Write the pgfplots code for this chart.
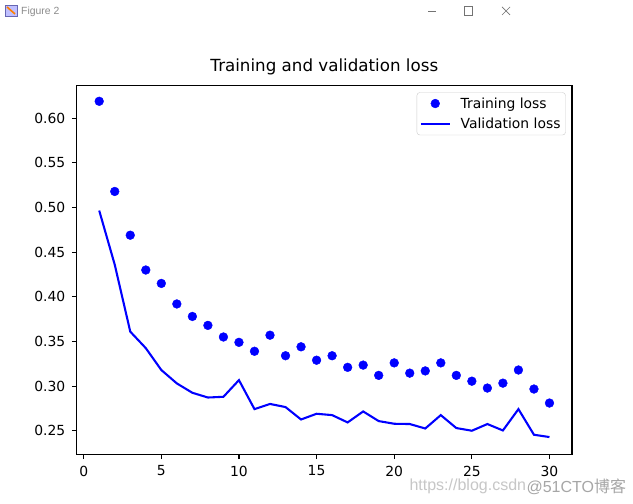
\documentclass[border=0pt]{standalone}
\usepackage{pgfplots}
\pgfplotsset{compat=1.18}
\usepackage{fontspec}
\setmainfont{DejaVu Sans}
\newfontfamily\wmfont{Liberation Sans}
\newfontfamily\cjk{Noto Sans CJK SC}

\pgfplotsset{
  dotlegend/.style={legend image code/.code={%
    \draw[mark repeat=2, mark phase=2, ##1] plot coordinates {(0pt,0pt)(14.3pt,0pt)(28.6pt,0pt)};}},
  linelegend/.style={legend image code/.code={%
    \draw[##1] (0pt,0pt) -- (28.6pt,0pt);}},
}

\begin{document}
\begin{tikzpicture}[x=1pt,y=1pt]
% window and page
\fill[white] (0,0) rectangle (633,504);
% title bar: icon, caption, window controls
\fill[blue!25!white] (5,488) rectangle (17,499);
\draw[blue!50!black!60, line width=0.6pt] (5,488) rectangle (17,499);
\draw[orange, line width=1.6pt] (7,497) -- (15,490);
\node[anchor=west, inner xsep=0pt, text=black!45, font=\wmfont\fontsize{10.4}{12}\selectfont] at (21,492) {Figure 2};
\draw[black!55, line width=0.7pt] (428,492.3) -- (436,492.3);
\draw[black!55, line width=0.7pt] (464.5,488.7) rectangle (472,497.3);
\draw[black!55, line width=0.7pt] (502,497) -- (510,489) (502,489) -- (510,497);

\begin{axis}[
  at={(76.7pt,49.7pt)}, anchor=south west,
  scale only axis, width=495.3pt, height=369pt,
  xmin=-0.45, xmax=31.45, ymin=0.2236, ymax=0.6369,
  xtick={0,5,10,15,20,25,30},
  ytick={0.25,0.30,0.35,0.40,0.45,0.50,0.55,0.60},
  yticklabel style={/pgf/number format/fixed, /pgf/number format/fixed zerofill, /pgf/number format/precision=2, xshift=-3pt},
  /pgf/number format/assume math mode=true,
  tick pos=left, tick align=outside,
  major tick length=4.9pt,
  every tick/.style={black, line width=1.1pt},
  axis line style={line width=1.1pt},
  tick label style={font=\fontsize{13.9}{16}\selectfont},
  xticklabel style={yshift=-3pt},
  title={Training and validation loss},
  title style={font=\fontsize{16.7}{19}\selectfont, at={(0.5,1)}, anchor=base, yshift=8.3pt},
  legend style={at={(1,1)}, anchor=north east, xshift=-6.3pt, yshift=-7pt,
    draw=black!20, rounded corners=3pt, fill=white,
    font=\fontsize{13.9}{16}\selectfont, inner xsep=3pt, inner ysep=3pt,
    row sep=4.4pt, column sep=8pt},
  legend cell align=left,
]
\addplot[only marks, mark=*, mark size=4.4pt, color=blue, dotlegend]
coordinates {
(1,0.619) (2,0.518) (3,0.469) (4,0.430) (5,0.415)
(6,0.392) (7,0.378) (8,0.368) (9,0.355) (10,0.349)
(11,0.339) (12,0.357) (13,0.334) (14,0.344) (15,0.329)
(16,0.334) (17,0.321) (18,0.3235) (19,0.312) (20,0.326)
(21,0.3145) (22,0.317) (23,0.326) (24,0.312) (25,0.3055)
(26,0.2978) (27,0.3033) (28,0.318) (29,0.2967) (30,0.281)
};
\addlegendentry{Training loss}
\addplot[color=blue, line width=2.08pt, mark=none, linelegend]
coordinates {
(1,0.4966) (2,0.436) (3,0.361) (4,0.3425) (5,0.318)
(6,0.303) (7,0.2925) (8,0.2872) (9,0.288) (10,0.3067)
(11,0.2742) (12,0.280) (13,0.2765) (14,0.2626) (15,0.269)
(16,0.2675) (17,0.2593) (18,0.2716) (19,0.2608) (20,0.2578)
(21,0.2575) (22,0.2525) (23,0.2675) (24,0.2530) (25,0.250)
(26,0.2575) (27,0.2503) (28,0.2742) (29,0.2455) (30,0.2429)
};
\addlegendentry{Validation loss}
\end{axis}

% watermark
\node[anchor=west, text=black!22, font=\wmfont\fontsize{16}{18}\selectfont] at (406,17.5) {https://blog.csdn};
\node[anchor=west, text=black!35, font=\wmfont\fontsize{16}{18}\selectfont] at (523,17.5) {@51CTO{\cjk 博客}};
\end{tikzpicture}
\end{document}
